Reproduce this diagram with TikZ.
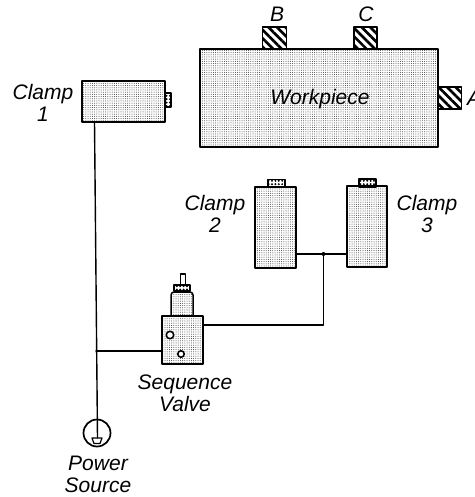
\documentclass[tikz,border=0pt]{standalone}
\usepackage{fontspec}
\setmainfont{Liberation Sans}
\usetikzlibrary{patterns.meta}
\tikzset{
	stipple/.style={draw,line width=1.7pt,inner sep=0pt,outer sep=0pt,pattern={Dots[distance=2.2pt,radius=0.5pt]},pattern color=black!75},
	nutbox/.style={draw,line width=1.2pt,inner sep=0pt,outer sep=0pt,pattern={Dots[distance=3.4pt,radius=1.1pt]}},
	hatched/.style={draw,line width=1.5pt,inner sep=0pt,outer sep=0pt,pattern={Lines[angle=-45,distance=6pt,line width=2.6pt]}},
	pipe/.style={line width=1.4pt},
	lbl/.style={font=\fontsize{21}{22}\selectfont\itshape,align=center,inner sep=0pt}
}
\begin{document}
\begin{tikzpicture}[line join=round,line cap=round,x=1pt,y=-1pt]
	\useasboundingbox (0,0) rectangle (474,497);
	\path
	(94.5,122) coordinate (Out1)
	(96,351) coordinate (Tap)
	(323.5,254) coordinate (Tee)
	(323.5,325) coordinate (Bend)
	(203,325) coordinate (ValveOut)
	(162,351) coordinate (ValveIn)
	(97.5,438) coordinate (Tip)
	;
	\node[stipple,minimum width=238pt,minimum height=98pt] (workpiece) at (319,98) {};
	\node[lbl] (workpieceText) at (320,99) {Workpiece};
	\node[hatched,minimum width=24pt,minimum height=22pt] (blockB) at (274.5,38) {};
	\node[hatched,minimum width=23pt,minimum height=22pt] (blockC) at (365.5,38) {};
	\node[hatched,minimum width=23pt,minimum height=22pt] (blockA) at (450,98) {};
	\node[lbl] (labelB) at (277,14) {B};
	\node[lbl] (labelC) at (366,14) {C};
	\node[lbl,anchor=west] (labelA) at (467,98) {A};

	\node[nutbox,minimum width=6pt,minimum height=14pt] (nub1) at (168,100) {};
	\node[stipple,minimum width=83pt,minimum height=41pt] (clamp1) at (123.5,101.5) {};
	\node[lbl] (clamp1Text) at (43,103) {Clamp\\1};

	\node[nutbox,minimum width=17pt,minimum height=8pt] (nut2) at (276.5,183.5) {};
	\node[stipple,minimum width=41pt,minimum height=81pt] (clamp2) at (275.5,227.5) {};
	\node[lbl] (clamp2Text) at (215,214) {Clamp\\2};

	\node[nutbox,minimum width=17pt,minimum height=8pt] (nut3) at (367.5,183) {};
	\node[stipple,minimum width=40pt,minimum height=81pt] (clamp3) at (367,226.5) {};
	\node[lbl] (clamp3Text) at (427,214) {Clamp\\3};

	\draw[line width=1.2pt,fill=white] (180.5,285)--(180.5,274)--(185.5,274)--(185.5,285);
	\node[nutbox,minimum width=16pt,minimum height=6pt] (nutV) at (182,288) {};
	\draw[line width=1.5pt,rounded corners=3pt,pattern={Dots[distance=2.2pt,radius=0.5pt]},pattern color=black!75] (171,316)--(171,292)--(193,292)--(193,316);
	\node[stipple,minimum width=41pt,minimum height=48pt] (valve) at (182.5,340) {};
	\node[circle,draw,line width=1.6pt,fill=white,inner sep=0pt,minimum size=7.5pt] (port1) at (170,335) {};
	\node[circle,draw,line width=1.6pt,fill=white,inner sep=0pt,minimum size=6.5pt] (port2) at (181,354) {};
	\node[lbl] (valveText) at (185,393) {Sequence\\Valve};

	\draw[pipe] (clamp2.east|-Tee)--(Tee)--(clamp3.west|-Tee);
	\draw[pipe] (Tee)--(Bend)--(ValveOut);
	\fill (Tee) circle (2pt);
	\draw[pipe] (Tap)--(ValveIn);

	\node[circle,draw,line width=1.7pt,inner sep=0pt,minimum size=27pt] (source) at (97,433) {};
	\draw[pipe] (Out1)--(Tip);
	\draw[line width=1.2pt] (92,438)--(102,438)--(100,443.5)--(94,443.5)--cycle;
	\node[lbl] (sourceText) at (98,474.5) {Power\\Source};
\end{tikzpicture}
\end{document}
